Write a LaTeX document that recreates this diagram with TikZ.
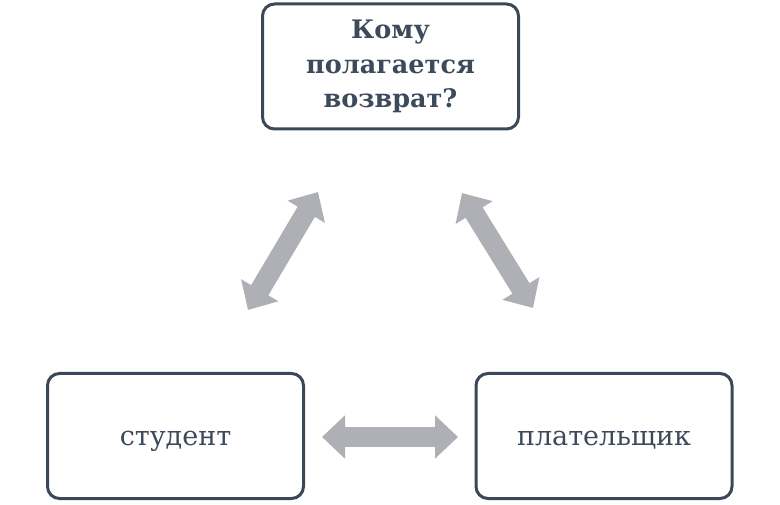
\documentclass[tikz,border=0pt]{standalone}
\usepackage{fontspec}
\setmainfont{DejaVu Serif}
\usetikzlibrary{arrows.meta}
\definecolor{boxline}{HTML}{3C4858}
\definecolor{boxtext}{HTML}{3D4A5C}
\definecolor{arrowgray}{HTML}{AEB0B5}

\begin{document}
\begin{tikzpicture}[
        x=1pt, y=1pt,
        box/.style = {
            draw = boxline,
            line width = 3pt,
            rounded corners = 12pt,
            minimum width = 256pt,
            minimum height = 125pt,
            text = boxtext,
            align = center,
            inner sep = 0pt
        },
        biarrow/.style = {
            arrowgray,
            line width = 20pt,
            {Triangle[width=42pt, length=23pt]}-{Triangle[width=42pt, length=23pt]}
        }
        ]
%
        \useasboundingbox (0,0) rectangle (780,504);
%
        \node[box, font=\bfseries\fontsize{25.5}{34.5}\selectfont] (who) at (390.5,437.5) {Кому\\полагается\\возврат?};
        \node[box, font=\fontsize{27}{30}\selectfont] (student) at (175.5,68) {\raisebox{-10pt}[0pt][0pt]{студент}};
        \node[box, font=\fontsize{27}{30}\selectfont] (payer) at (604,68) {\raisebox{-10pt}[0pt][0pt]{плательщик}};
%
        \coordinate (l1) at (248,194);
        \coordinate (l2) at (318,312);
        \coordinate (r1) at (462,311);
        \coordinate (r2) at (533,196);
        \coordinate (h1) at (322,67);
        \coordinate (h2) at (458,67);
%
        \draw[biarrow] (l1) -- (l2);
        \draw[biarrow] (r1) -- (r2);
        \draw[biarrow] (h1) -- (h2);
%
    \end{tikzpicture}
\end{document}
